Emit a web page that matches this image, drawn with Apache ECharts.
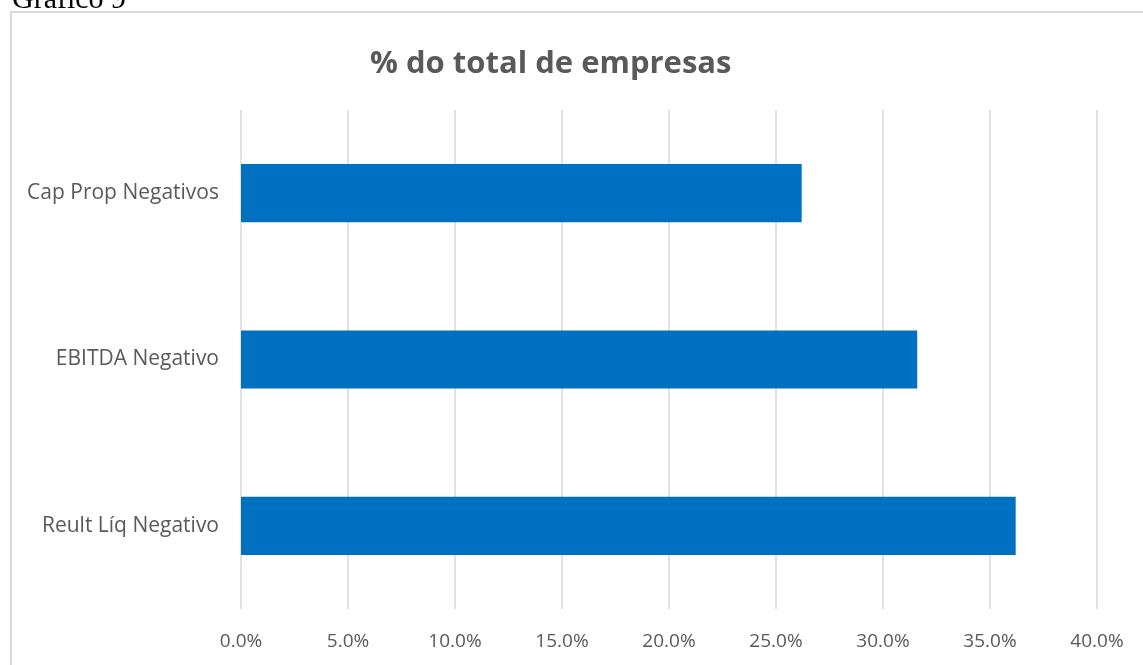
<!DOCTYPE html>
<html>
<head>
<meta charset="utf-8">
<script src="https://cdn.jsdelivr.net/npm/echarts@6/dist/echarts.min.js"></script>
<style>html,body{margin:0;padding:0;background:#fff;}#c{width:1143px;height:665px;}</style>
</head>
<body>
<div id="c"></div>
<script>
const categories = ["Reult Líq Negativo", "EBITDA Negativo", "Cap Prop Negativos"];
const values = [36.2, 31.6, 26.2];
const chartTitle = "% do total de empresas";
const caption = "Gráfico 9";

const chart = echarts.init(document.getElementById('c'));
chart.setOption({
  animation: false,
  backgroundColor: '#fff',
  title: {
    text: chartTitle,
    left: 365,
    top: 44,
    textStyle: { fontFamily: 'Open Sans', fontWeight: 'bold', fontSize: 31, color: '#595959' }
  },
  graphic: [
    { type: 'rect', shape: { x: 11, y: 12, width: 1150, height: 670 }, style: { fill: 'none', stroke: '#d9d9d9', lineWidth: 2 }, z: -1 },
    { type: 'text', left: 12, top: -15, style: { text: caption, font: '30px "Liberation Serif"', fill: '#000' } }
  ],
  grid: { left: 241, right: 46, top: 110, bottom: 56, containLabel: false },
  xAxis: {
    type: 'value', min: 0, max: 40, interval: 5,
    axisLine: { show: false }, axisTick: { show: false },
    splitLine: { show: true, lineStyle: { color: '#d9d9d9', width: 1.5 } },
    axisLabel: { formatter: v => v.toFixed(1) + '%', color: '#595959', fontSize: 19, fontFamily: 'Open Sans', margin: 23 }
  },
  yAxis: {
    type: 'category', data: categories,
    axisLine: { show: false }, axisTick: { show: false },
    axisLabel: { color: '#595959', fontSize: 21, fontFamily: 'Open Sans', margin: 22 }
  },
  series: [{
    type: 'bar', data: values, barCategoryGap: '65%',
    itemStyle: { color: '#0070C0' }
  }]
});
</script>
</body>
</html>
